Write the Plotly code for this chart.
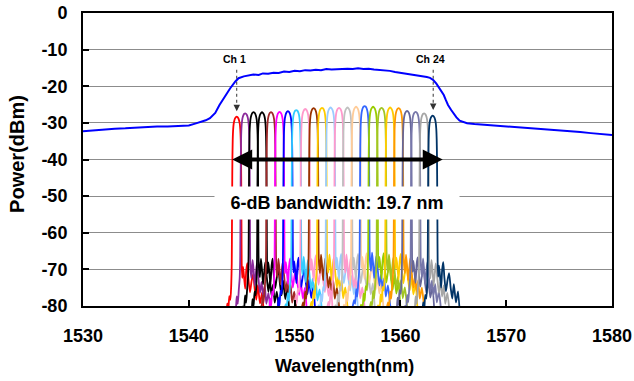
import plotly.graph_objects as go

# ---------------- data ----------------
ase_wl = [1530, 1531, 1532, 1533, 1534, 1535, 1536, 1537, 1538, 1539, 1540, 1540.6, 1541.1,
          1541.6, 1542.0, 1542.5, 1542.9, 1543.4, 1543.9, 1544.4, 1544.7, 1545.2, 1545.6,
          1546.1, 1546.6, 1547.0, 1547.5, 1548.0, 1548.5, 1549.0, 1549.5, 1550.0, 1550.5,
          1551.0, 1551.5, 1552.0, 1552.5, 1553.0, 1553.5, 1554.0, 1554.5, 1555.0, 1555.5,
          1556.0, 1556.5, 1557.0, 1557.5, 1558.0, 1558.5, 1559.0, 1559.5, 1560.0, 1560.5,
          1561.0, 1561.5, 1562.0, 1562.5, 1562.8, 1563.1, 1563.4, 1563.6, 1563.9, 1564.1,
          1564.3, 1564.5, 1564.8, 1565.0, 1565.3, 1565.6, 1566.0, 1566.3, 1567, 1568, 1569,
          1570, 1571, 1572, 1573, 1574, 1575, 1576, 1577, 1578, 1579, 1580]
ase_db = [-32.3, -32.0, -31.9, -31.6, -31.5, -31.3, -31.2, -31.0, -31.0, -30.8, -30.7, -30.2, -29.8,
          -29.3, -28.7, -27.3, -25.1, -22.8, -20.6, -18.7, -17.8, -17.3, -17.0,
          -16.8, -16.9, -16.5, -16.6, -16.3, -16.4, -16.0, -16.1, -15.8, -15.9,
          -15.6, -15.7, -15.5, -15.6, -15.3, -15.4, -15.3, -15.4, -15.2, -15.3,
          -15.1, -15.3, -15.2, -15.4, -15.5, -15.7, -15.8, -16.1, -16.3, -16.6,
          -16.8, -17.1, -17.3, -17.5, -17.7, -18.3, -19.3, -20.1, -21.5, -22.4,
          -23.8, -25.1, -26.5, -27.4, -28.5, -29.4, -29.9, -30.1, -30.3, -30.5, -30.8,
          -31.0, -31.1, -31.4, -31.5, -31.8, -32.0, -32.3, -32.5, -32.8, -33.0, -33.3]

ch_center = [1544.53, 1545.33, 1546.12, 1546.92, 1547.77, 1548.58, 1549.37, 1550.16, 1551.01,
             1551.80, 1552.59, 1553.40, 1554.20, 1555.00, 1555.81, 1556.62, 1557.42, 1558.22,
             1559.03, 1559.83, 1560.63, 1561.44, 1562.24, 1563.05]
ch_peak = [-28.3, -27.4, -27.1, -27.1, -27.1, -27.0, -26.8, -26.5, -26.2, -26.0, -25.9, -25.8,
           -25.9, -25.8, -25.6, -25.4, -25.6, -25.9, -25.8, -26.0, -26.7, -27.0, -27.4, -28.0]
ch_colors = ["#FF0000", "#8B2A9B", "#000000", "#000000", "#A02828", "#FF00FF", "#0000FF",
             "#33CCFF", "#FF99CC", "#993300", "#FFCC00", "#99CCFF", "#FF99CC", "#C0C0C0",
             "#FFCC99", "#3366FF", "#99CC00", "#A2C523", "#FFCC00", "#FF9900", "#666699",
             "#7777AA", "#A6A6A6", "#003366"]

# filter profile: wavelength offset (nm) and level relative to the peak (dB), two variants
prof_off = [-1.7, -1.5, -1.3, -1.15, -1.0, -0.9, -0.8, -0.7, -0.6, -0.52, -0.47, -0.45, -0.43,
            -0.41, -0.38, -0.34, -0.29, -0.23, -0.16, -0.08, 0.0, 0.08, 0.16, 0.23, 0.29, 0.34,
            0.38, 0.41, 0.43, 0.45, 0.47, 0.52, 0.6, 0.7, 0.8, 0.9, 1.0, 1.1, 1.25, 1.4, 1.55,
            1.7, 1.85, 2.0, 2.2, 2.4, 2.6]
prof_a = [-62, -58, -57, -54, -55, -51, -53, -49, -50, -46, -40, -30, -20,
          -12, -6.5, -3.6, -2.0, -1.1, -0.5, -0.15, 0.0, -0.15, -0.5, -1.1, -2.0, -3.6,
          -6.5, -12, -20, -30, -40, -44, -41, -44, -47, -42, -40, -44, -48, -45, -43,
          -47, -50, -46, -51, -48, -56]
prof_b = [-64, -60, -56, -55, -53, -54, -50, -52, -48, -45, -39, -29, -19,
          -11, -6.0, -3.4, -1.9, -1.0, -0.45, -0.12, 0.0, -0.12, -0.45, -1.0, -1.9, -3.4,
          -6.0, -11, -19, -29, -39, -43, -45, -40, -43, -47, -44, -41, -45, -49, -46,
          -50, -47, -52, -49, -54, -58]
ch_variant = ["a", "b", "b", "a", "b", "a", "a", "b", "a", "b", "b", "a",
              "b", "a", "a", "b", "a", "b", "a", "b", "a", "b", "b", "a"]

x_ticks = [1530, 1540, 1550, 1560, 1570, 1580]
y_ticks = [0, -10, -20, -30, -40, -50, -60, -70, -80]

FONT = "Liberation Sans, Arial, sans-serif"

fig = go.Figure()
for i in range(len(ch_center)):
    prof = prof_a if ch_variant[i] == "a" else prof_b
    xs = [ch_center[i] + o for o in prof_off]
    ys = [ch_peak[i] + r for r in prof]
    fig.add_trace(go.Scatter(x=xs, y=ys, mode="lines",
                             line=dict(color=ch_colors[i], width=1.8, shape="spline", smoothing=0.6),
                             showlegend=False, hoverinfo="skip"))

fig.add_trace(go.Scatter(x=ase_wl, y=ase_db, mode="lines",
                         line=dict(color="#0000FF", width=2),
                         showlegend=False, hoverinfo="skip"))

annotations = []
# double-headed bandwidth arrow
annotations.append(dict(x=1564.0, y=-40, ax=1543.96, ay=-40, axref="x", ayref="y",
                        xref="x", yref="y", text="", showarrow=True, arrowhead=2,
                        arrowside="end+start", arrowwidth=4, arrowsize=1.0,
                        arrowcolor="black"))
# bandwidth text box
annotations.append(dict(x=1554.0, y=-51.8, xref="x", yref="y", text="<b>6-dB bandwidth: 19.7 nm</b>",
                        showarrow=False, bgcolor="white", width=242, height=30,
                        xanchor="center", yanchor="middle",
                        font=dict(family=FONT, size=18, color="black")))
# channel labels and arrowheads
for label, xl, xa, ytip in [("Ch 1", 1544.3, 1544.53, -26.8), ("Ch 24", 1562.85, 1563.1, -26.5)]:
    annotations.append(dict(x=xl, y=-12.5, xref="x", yref="y", text="<b>%s</b>" % label,
                            xanchor="center", yanchor="middle",
                            showarrow=False, font=dict(family=FONT, size=10.5, color="black")))
    annotations.append(dict(x=xa, y=ytip, xref="x", yref="y", text="", showarrow=True,
                            ax=0, ay=-7, arrowhead=2, arrowsize=1.3, arrowwidth=1,
                            arrowcolor="#333333"))
# axis titles
annotations.append(dict(x=-0.1248, y=0.519, xref="paper", yref="paper", text="<b>Power(dBm)</b>",
                        textangle=-90, showarrow=False, xanchor="center", yanchor="middle",
                        font=dict(family=FONT, size=20, color="black")))
annotations.append(dict(x=0.495, y=-0.206, xref="paper", yref="paper", text="<b>Wavelength(nm)</b>",
                        showarrow=False, xanchor="center", yanchor="middle",
                        font=dict(family=FONT, size=18, color="black")))

shapes = [
    dict(type="line", xref="x", yref="y", x0=1544.53, x1=1544.53, y0=-15.5, y1=-25.0,
         line=dict(color="#333333", width=1, dash="dot")),
    dict(type="line", xref="x", yref="y", x0=1563.1, x1=1563.1, y0=-15.5, y1=-24.7,
         line=dict(color="#333333", width=1, dash="dot")),
]

fig.update_layout(
    width=634, height=381,
    margin=dict(l=83, r=22, t=13, b=75),
    paper_bgcolor="white", plot_bgcolor="white",
    font=dict(family=FONT, size=18, color="black"),
    annotations=annotations, shapes=shapes,
    xaxis=dict(range=[1530, 1580], tickvals=x_ticks, ticktext=["<b>%d</b>" % v for v in x_ticks],
               automargin=False,
               showgrid=False, zeroline=False, showline=True, linecolor="black", linewidth=2,
               mirror=True, ticks="inside", ticklen=6, tickwidth=1.5, tickcolor="black",
               ticklabelstandoff=12, tickfont=dict(family=FONT, size=18, color="black")),
    yaxis=dict(range=[-80, 0], tickvals=y_ticks, ticktext=["<b>%d</b>" % v for v in y_ticks],
               automargin=False,
               showgrid=True, gridcolor="#8C8C8C", gridwidth=1, zeroline=False,
               showline=True, linecolor="black", linewidth=2, mirror=True,
               ticks="inside", ticklen=6, tickwidth=1.5, tickcolor="black",
               ticklabelstandoff=10, tickfont=dict(family=FONT, size=18, color="black")),
)

fig.write_html("out.html")
